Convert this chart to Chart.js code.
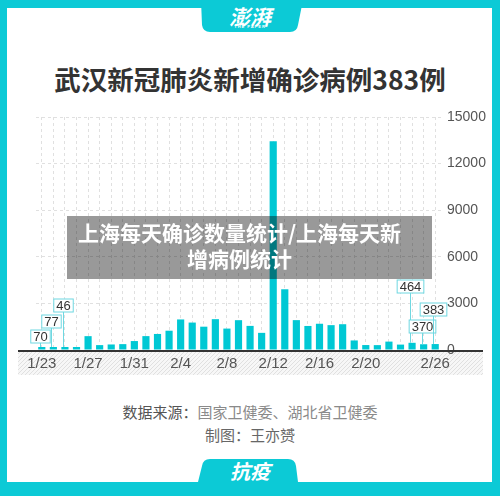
<!DOCTYPE html>
<html>
<head>
<meta charset="utf-8">
<script src="https://cdn.jsdelivr.net/npm/chart.js@4"></script>
<style>
  html, body { margin: 0; padding: 0; }
  body { width: 500px; height: 496px; background: #0ccad6; overflow: hidden; font-family: "Noto Sans CJK SC", sans-serif; }
  #wrap { position: relative; width: 500px; height: 496px; }
  #panel { position: absolute; left: 7px; top: 8px; width: 485px; height: 474px; background: #fff; }
  #tabs { position: absolute; left: 0; top: 0; }
  .logo { position: absolute; left: 0; width: 500px; text-align: center; color: #fff; }
  #title { position: absolute; left: 0; top: 59px; width: 500px; text-align: center; font-size: 26.5px; font-weight: 700; color: #333; }
  #chartBox { position: absolute; left: 0; top: 100px; width: 500px; height: 290px; }
  #band { position: absolute; left: 67px; top: 216px; width: 325px; height: 60px; padding: 3px 30px 0 10px;
          background: rgba(0,0,0,0.4); color: #fff; font-size: 21px; font-weight: 700; line-height: 26px; text-align: center; white-space: nowrap; }
  .foot { position: absolute; left: 0; width: 500px; text-align: center; font-size: 15px; }
</style>
</head>
<body>
<div id="wrap">
  <div id="panel"></div>
  <svg id="tabs" width="500" height="496">
    <path d="M201 0 L303 0 L298 25 Q297 32 290 32 L210 32 Q203 32 202 25 Z" fill="#0ccad6"/>
    <path d="M198 482 L202 466 Q203 459 210 459 L288 459 Q295 459 296 466 L298 482 Z" fill="#0ccad6"/>
  </svg>
  <div class="logo" style="top:4px;font-size:21px;font-weight:700;font-style:italic;line-height:24px;">澎湃</div>
  <div class="logo" style="top:24px;font-size:4px;font-weight:700;letter-spacing:1px;line-height:5px;font-family:'Liberation Sans';">THE PAPER</div>
  <div id="title">武汉新冠肺炎新增确诊病例383例</div>
  <div id="chartBox"><canvas id="chart"></canvas></div>
  <div id="band">上海每天确诊数量统计/上海每天新<br>增病例统计</div>
  <div class="foot" style="top:401px;"><span style="color:#555">数据来源：</span><span style="color:#8a8a8a">国家卫健委、湖北省卫健委</span></div>
  <div class="foot" style="top:424px;color:#666;">制图：王亦赟</div>
  <div class="logo" style="top:459px;font-size:20px;font-weight:700;font-style:italic;line-height:24px;">抗疫</div>
</div>

<script>
const dates = ['1/23','1/24','1/25','1/26','1/27','1/28','1/29','1/30','1/31',
               '2/1','2/2','2/3','2/4','2/5','2/6','2/7','2/8','2/9','2/10','2/11',
               '2/12','2/13','2/14','2/15','2/16','2/17','2/18','2/19','2/20','2/21',
               '2/22','2/23','2/24','2/25','2/26'];
const newCases = [70, 77, 46, 80, 892, 315, 356, 378, 576,
                  894, 1033, 1242, 1967, 1766, 1501, 1985, 1379, 1920, 1552, 1104,
                  13436, 3910, 1923, 1548, 1690, 1600, 1660, 615, 319, 314,
                  541, 348, 464, 370, 383];
const shownDates = ['1/23','1/27','1/31','2/4','2/8','2/12','2/16','2/20','2/26'];
const yTicks = [0, 3000, 6000, 9000, 12000, 15000];
const calloutDates = ['1/23','1/24','1/25','2/24','2/25','2/26'];

// how far above the baseline each callout box sits (px)
const calloutLift = { '1/23': 7, '1/24': 22, '1/25': 38, '2/24': 57, '2/25': 17, '2/26': 34 };

const TEAL = '#00c8d4';
const LEADER = '#6fd8e1';

Chart.defaults.font.family = "'Liberation Sans', Arial, sans-serif";

const hatch = (() => {
  const c = document.createElement('canvas');
  c.width = 4; c.height = 4;
  const g = c.getContext('2d');
  g.fillStyle = '#f7f7f7'; g.fillRect(0, 0, 4, 4);
  g.strokeStyle = '#e0e0e0'; g.lineWidth = 1;
  g.beginPath(); g.moveTo(0, 4); g.lineTo(4, 0); g.stroke();
  return c;
})();

const decor = {
  id: 'decor',
  beforeDraw(chart) {
    const { ctx, chartArea } = chart;
    ctx.save();
    ctx.fillStyle = ctx.createPattern(hatch, 'repeat');
    ctx.fillRect(chartArea.left - 18, chartArea.bottom, chartArea.right - chartArea.left + 60, 25);
    ctx.restore();
  },
  afterDatasetsDraw(chart) {
    const { ctx, chartArea } = chart;
    const meta = chart.getDatasetMeta(0);
    ctx.save();
    ctx.strokeStyle = '#333';
    ctx.lineWidth = 2;
    ctx.beginPath();
    ctx.moveTo(chartArea.left - 18, chartArea.bottom + 1);
    ctx.lineTo(chartArea.right + 42, chartArea.bottom + 1);
    ctx.stroke();

    ctx.font = "13px 'Liberation Sans', Arial";
    ctx.textAlign = 'center';
    ctx.textBaseline = 'middle';
    calloutDates.forEach(d => {
      const i = dates.indexOf(d);
      const bar = meta.data[i];
      const x = Math.round(bar.x) - 1.5;
      const boxBottom = chartArea.bottom - calloutLift[d];
      const label = String(newCases[i]);
      const w = ctx.measureText(label).width + 5;
      const h = 13;
      ctx.strokeStyle = LEADER;
      ctx.lineWidth = 1;
      ctx.beginPath();
      ctx.moveTo(x, boxBottom);
      ctx.lineTo(x, bar.y);
      ctx.stroke();
      ctx.fillStyle = '#fff';
      ctx.fillRect(x - w / 2, boxBottom - h, w, h);
      ctx.strokeRect(x - w / 2, boxBottom - h, w, h);
      ctx.fillStyle = '#333';
      ctx.fillText(label, x, boxBottom - h / 2 + 0.5);
    });
    ctx.restore();
  }
};

new Chart(document.getElementById('chart'), {
  type: 'bar',
  data: {
    labels: dates,
    datasets: [{ data: newCases, backgroundColor: TEAL, barPercentage: 0.62, categoryPercentage: 1, minBarLength: 3 }]
  },
  options: {
    responsive: true,
    maintainAspectRatio: false,
    animation: false,
    layout: { padding: { left: 36, right: 9, top: 17, bottom: 10 } },
    plugins: { legend: { display: false }, tooltip: { enabled: false } },
    scales: {
      x: {
        grid: { color: '#e0e0e0', offset: false, drawTicks: false },
        border: { display: false, dash: [3, 3] },
        ticks: {
          autoSkip: false, maxRotation: 0, padding: 5, color: '#555', font: { size: 15 },
          callback: (v, i) => shownDates.includes(dates[i]) ? dates[i] : ''
        },
        afterFit: s => { s.height = 30; }
      },
      y: {
        position: 'right',
        min: 0, max: 15000,
        afterBuildTicks: s => { s.ticks = yTicks.map(v => ({ value: v })); },
        grid: { color: '#e0e0e0', drawTicks: false },
        border: { display: false, dash: [3, 3] },
        ticks: { padding: 6, color: '#555', font: { size: 14 }, callback: v => String(v) },
        afterFit: s => { s.width = 50; }
      }
    }
  },
  plugins: [decor]
});
</script>
</body>
</html>
